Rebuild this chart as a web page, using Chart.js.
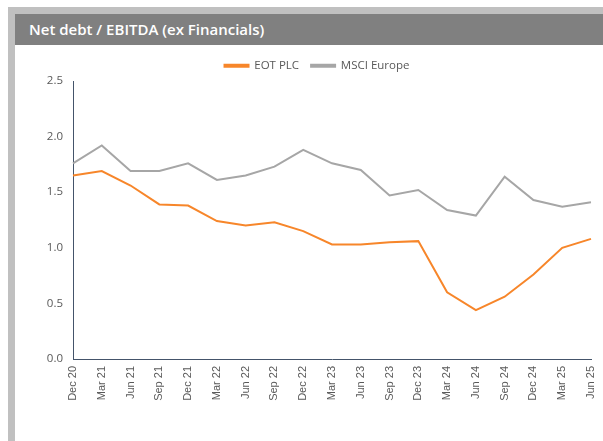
<!DOCTYPE html>
<html>
<head>
<meta charset="utf-8">
<script src="https://cdn.jsdelivr.net/npm/chart.js@4"></script>
<style>
  html, body { margin: 0; padding: 0; background: #fff; }
  #frame { position: absolute; left: 8px; top: 7px; width: 595px; height: 434px; background: #c0c0c0; }
  #title { position: absolute; left: 15px; top: 14px; width: 588px; height: 31px; background: #808080;
           color: #fff; font: 600 15px "Open Sans", sans-serif; line-height: 31px; box-sizing: border-box; padding-left: 14px; }
  #box { position: absolute; left: 15px; top: 45px; width: 588px; height: 396px; background: #fff; }
</style>
</head>
<body>
<div id="frame"></div>
<div id="title">Net debt / EBITDA (ex Financials)</div>
<div id="box"><canvas id="chart" width="588" height="396"></canvas></div>
<script>
// quarters
const labels = ['Dec 20', 'Mar 21', 'Jun 21', 'Sep 21', 'Dec 21', 'Mar 22', 'Jun 22', 'Sep 22', 'Dec 22',
    'Mar 23', 'Jun 23', 'Sep 23', 'Dec 23', 'Mar 24', 'Jun 24', 'Sep 24', 'Dec 24', 'Mar 25', 'Jun 25'];
const eotValues = [1.65, 1.69, 1.56, 1.39, 1.38, 1.24, 1.20, 1.23, 1.15,
    1.03, 1.03, 1.05, 1.06, 0.60, 0.44, 0.56, 0.76, 1.00, 1.08];
const msciValues = [1.76, 1.92, 1.69, 1.69, 1.76, 1.61, 1.65, 1.73, 1.88,
    1.76, 1.70, 1.47, 1.52, 1.34, 1.29, 1.64, 1.43, 1.37, 1.41];
const yTicks = [0, 0.5, 1.0, 1.5, 2.0, 2.5];

const axisColor = '#44546a';
const textColor = '#595959';

// fix legend height and nudge it right so it sits like the original
const legendTweak = {
    id: 'legendTweak',
    beforeInit(chart) {
        const fit = chart.legend.fit;
        chart.legend.fit = function () {
            fit.call(chart.legend);
            this.height = 33;
        };
    },
    afterUpdate(chart) {
        const lg = chart.legend;
        lg.left += 8;
        lg.right += 8;
        lg.adjustHitBoxes();
    }
};

new Chart(document.getElementById('chart'), {
    type: 'line',
    data: {
        labels: labels,
        datasets: [
            { label: 'EOT PLC', data: eotValues, borderColor: '#f7862a', backgroundColor: '#f7862a',
              borderWidth: 2, pointRadius: 0, tension: 0 },
            { label: 'MSCI Europe', data: msciValues, borderColor: '#a6a6a6', backgroundColor: '#a6a6a6',
              borderWidth: 2, pointRadius: 0, tension: 0 }
        ]
    },
    options: {
        responsive: false,
        animation: false,
        layout: { padding: { top: 3, right: 0, left: 0, bottom: 0 } },
        plugins: {
            legend: {
                labels: {
                    boxWidth: 24, boxHeight: 2, padding: 12, color: textColor,
                    font: { family: '"Open Sans"', size: 11.5 }
                }
            },
            tooltip: { enabled: false }
        },
        scales: {
            x: {
                offset: false,
                grid: { display: false, drawTicks: true, tickLength: 5, color: axisColor },
                border: { color: axisColor, width: 1 },
                ticks: { color: textColor, font: { family: '"Liberation Sans"', size: 11 },
                         minRotation: 90, maxRotation: 90, autoSkip: false, padding: 2 },
                afterFit: s => { s.height = 82; s.paddingRight = 12; }
            },
            y: {
                min: 0, max: 2.5,
                afterBuildTicks: s => { s.ticks = yTicks.map(v => ({ value: v })); },
                grid: { display: false, drawTicks: true, tickLength: 5, color: axisColor },
                border: { color: axisColor, width: 1 },
                ticks: { color: textColor, font: { family: '"Open Sans"', size: 11.5 }, padding: 5,
                         callback: v => v.toFixed(1) },
                afterFit: s => { s.width = 58; }
            }
        }
    },
    plugins: [legendTweak]
});
</script>
</body>
</html>
